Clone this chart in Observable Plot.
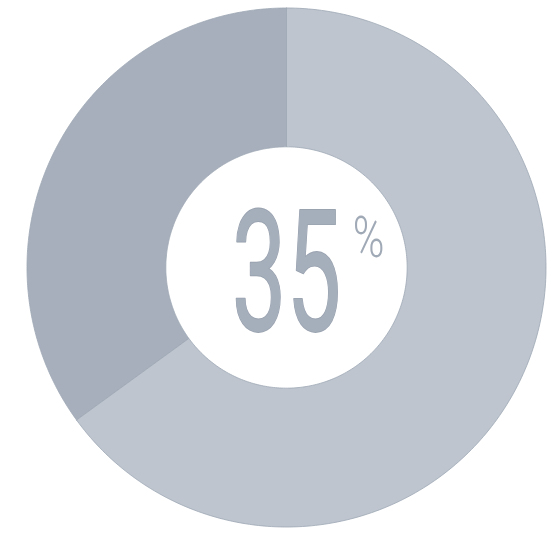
<!DOCTYPE html>
<html>
<head>
<meta charset="utf-8">
<script src="https://cdn.jsdelivr.net/npm/d3@7"></script>
<script src="https://cdn.jsdelivr.net/npm/@observablehq/plot@0.6"></script>
<style>
  html, body { margin: 0; padding: 0; background: #ffffff; }
  #chart { width: 547px; height: 533px; }
</style>
</head>
<body>
<div id="chart"></div>
<script>
// ---- data ----
const slices = ["share", "rest"];
const values = [35, 65];
const sliceColors = ["#a7afbc", "#bec5cf"];
const centerLabel = "35";
const centerSuffix = "%";

// ---- geometry built from the data (in data units, radius 1) ----
const innerRatio = 0.465;
const total = d3.sum(values);
const segments = [];
{
  // first slice runs counter-clockwise from 12 o'clock, the rest clockwise
  let start = -values[0] / total;
  slices.forEach((name, i) => {
    const a0 = start * 2 * Math.PI;
    const a1 = (start + values[i] / total) * 2 * Math.PI;
    const n = 240;
    const pts = [];
    for (let k = 0; k <= n; k++) {
      const a = a0 + (a1 - a0) * k / n;
      pts.push({slice: name, x: Math.sin(a), y: Math.cos(a)});
    }
    for (let k = n; k >= 0; k--) {
      const a = a0 + (a1 - a0) * k / n;
      pts.push({slice: name, x: innerRatio * Math.sin(a), y: innerRatio * Math.cos(a)});
    }
    pts.push({slice: name, x: Math.sin(a0), y: Math.cos(a0)});
    segments.push(...pts);
    start += values[i] / total;
  });
}

const W = 547, H = 533;
const cx = 286, cy = 267, R = 259.5;

const svg = Plot.plot({
  width: W,
  height: H,
  margin: 0,
  x: {domain: [-cx / R, (W - cx) / R], axis: null},
  y: {domain: [-(H - cy) / R, cy / R], axis: null},
  color: {domain: slices, range: sliceColors},
  style: {background: "#ffffff"},
  marks: [
    Plot.line(segments, {x: "x", y: "y", z: "slice", fill: "slice", stroke: "#9ea7b4", strokeWidth: 1, strokeOpacity: 0.8}),
    Plot.text([centerLabel], {x: () => 0, y: () => 0, text: d => d, fontFamily: "Roboto", fontSize: 168, fontWeight: 400, fill: "#a5aebb", stroke: "#99a2af", strokeWidth: 1.8, textAnchor: "middle", lineAnchor: "middle", dy: 9, className: "big"}),
    Plot.text([centerSuffix], {x: () => 0, y: () => 0, text: d => d, fontFamily: "Roboto", fontSize: 58, fontWeight: 300, fill: "#a0a9b6", textAnchor: "middle", lineAnchor: "middle", dx: 82, dy: -29, className: "pct"})
  ]
});

// condense the glyphs horizontally around their own anchor
function condense(sel, k) {
  d3.select(svg).selectAll(sel + " text").each(function() {
    const t = this.getAttribute("transform");
    if (t && t.includes("translate")) {
      this.setAttribute("transform", t + ` scale(${k},1)`);
    } else {
      const x = +this.getAttribute("x") || 0, y = +this.getAttribute("y") || 0;
      this.setAttribute("transform", `translate(${x},${y}) scale(${k},1)`);
      this.removeAttribute("x"); this.removeAttribute("y");
    }
  });
}
condense(".big", 0.58);
condense(".pct", 0.74);

document.getElementById("chart").appendChild(svg);
</script>
</body>
</html>
